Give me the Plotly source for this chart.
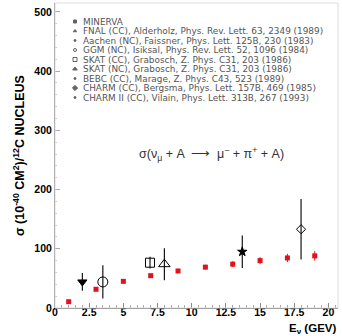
import plotly.graph_objects as go

# MINERvA prediction points
minerva_e = [1, 3, 5, 7, 9, 11, 13, 15, 17, 19]
minerva_sigma = [10.6, 31.6, 45, 54.6, 62.5, 69, 74, 80, 84.5, 88]
minerva_err = [2, 2.5, 3, 3, 3.5, 4, 5, 6, 7, 8]

# Other experiments (energy, sigma, error, symbol)
exp_names = ["FNAL", "GGM", "SKAT CC", "SKAT NC", "CHARM", "BEBC"]
exp_e = [2.0, 3.5, 6.95, 8.0, 13.7, 18.0]
exp_sigma = [44, 44, 76.5, 74, 95, 133]
exp_err = [15, 28, 10, 27, 27.5, 51]
exp_symbols = ["triangle-down", "circle-open", "square-open", "triangle-up-open", "star", "diamond-open"]
exp_sizes = [8, 10, 9, 10, 7, 7]

legend_labels = [
    "MINERVA",
    "FNAL (CC), Alderholz, Phys. Rev. Lett. 63, 2349 (1989)",
    "Aachen (NC), Faissner, Phys. Lett. 125B, 230 (1983)",
    "GGM (NC), Isiksal, Phys. Rev. Lett. 52, 1096 (1984)",
    "SKAT (CC), Grabosch, Z. Phys. C31, 203 (1986)",
    "SKAT (NC), Grabosch, Z. Phys. C31, 203 (1986)",
    "BEBC (CC), Marage, Z. Phys. C43, 523 (1989)",
    "CHARM (CC), Bergsma, Phys. Lett. 157B, 469 (1985)",
    "CHARM II (CC), Vilain, Phys. Lett. 313B, 267 (1993)",
]
legend_symbols = ["square", "triangle-up", "circle", "circle-open", "square-open",
                  "triangle-up", "circle", "diamond", "circle"]
legend_sizes = [3, 3, 2, 3, 4, 4, 2, 4, 2]

x_tickvals = [0, 2.5, 5, 7.5, 10, 12.5, 15, 17.5, 20]
y_tickvals = [0, 100, 200, 300, 400, 500]

W, H = 342, 336
L, R, T, B = 55, 4, 3, 28
pw, ph = W - L - R, H - T - B

fig = go.Figure()

fig.add_trace(go.Scatter(
    x=minerva_e, y=minerva_sigma, mode="markers",
    marker=dict(symbol="square", size=5, color="#e3101e"),
    error_y=dict(type="data", array=minerva_err, color="#e3101e", thickness=1, width=0),
    showlegend=False,
))

for name, e, s, err, sym, sz in zip(exp_names, exp_e, exp_sigma, exp_err, exp_symbols, exp_sizes):
    fig.add_trace(go.Scatter(
        x=[e], y=[s], mode="markers", name=name,
        marker=dict(symbol=sym, size=sz, color="black", line=dict(color="black", width=1)),
        error_y=dict(type="data", array=[err], color="black", thickness=1.1, width=0),
        showlegend=False,
    ))

# legend markers on an overlay axis (fractions of the plot area)
row_px = [21.5 + 9.5 * i for i in range(len(legend_labels))]
row_y = [(308 - p) / ph for p in row_px]
fig.add_trace(go.Scatter(
    x=[(75 - L) / pw] * len(legend_labels), y=row_y, mode="markers",
    marker=dict(symbol=legend_symbols, size=legend_sizes, color="#222",
                line=dict(color="#222", width=1)),
    xaxis="x2", yaxis="y2", showlegend=False,
))

for lab, yy in zip(legend_labels, row_y):
    fig.add_annotation(x=(81 - L) / pw, y=yy, xref="paper", yref="paper", text=lab,
                       showarrow=False, xanchor="left", yanchor="middle",
                       font=dict(family="DejaVu Sans", size=8.9, color="#555"))

fig.add_annotation(x=(212 - L) / pw, y=(308 - 154) / ph, xref="paper", yref="paper",
                   text="σ(ν<sub>μ</sub> + A  ⟶  μ<sup>−</sup> + π<sup>+</sup> + A)",
                   showarrow=False, font=dict(family="Liberation Sans", size=12.5, color="#333"))

fig.add_annotation(x=1.0, y=0, xref="paper", yref="paper", yshift=-12,
                   text="E<sub>ν</sub> (GEV)", showarrow=False, xanchor="right", yanchor="top",
                   font=dict(family="Liberation Sans", size=11.5, color="black", weight="bold"))

fig.add_shape(type="rect", xref="paper", yref="paper", x0=0, x1=1, y0=0, y1=1,
              line=dict(color="#ddd", width=1))

fig.update_layout(
    width=W, height=H, margin=dict(l=L, r=R, t=T, b=B, autoexpand=False),
    paper_bgcolor="white", plot_bgcolor="white",
    xaxis=dict(range=[0, pw / 13.67], tickvals=x_tickvals, ticktext=[str(v) for v in x_tickvals],
               automargin=False, ticklabelstandoff=-6,
               showgrid=False, zeroline=False, showline=True, linecolor="#666", linewidth=1,
               ticks="inside", ticklen=5, tickcolor="#888",
               minor=dict(ticks="inside", ticklen=3, dtick=0.5, tickcolor="#aaa"),
               tickfont=dict(family="Liberation Sans", size=10.5, color="black", weight="bold")),
    yaxis=dict(range=[0, 515], tickvals=y_tickvals, showgrid=False, zeroline=False,
               automargin=False,
               showline=True, linecolor="#888", linewidth=1,
               ticks="inside", ticklen=5, tickcolor="#aaa",
               minor=dict(ticks="inside", ticklen=2, dtick=20, tickcolor="#ccc"),
               tickfont=dict(family="Liberation Sans", size=10.5, color="black", weight="bold"),
               title=dict(text="σ (10<sup>-40</sup> CM<sup>2</sup>)/<sup>12</sup>C NUCLEUS",
                          standoff=6,
                          font=dict(family="Liberation Sans", size=12.5, color="black", weight="bold"))),
    xaxis2=dict(range=[0, 1], overlaying="x", visible=False, domain=[0, 1]),
    yaxis2=dict(range=[0, 1], overlaying="y", visible=False, domain=[0, 1]),
)

fig.write_html("out.html", config={"displayModeBar": False},
               post_script="document.body.style.margin='0';document.body.style.overflow='hidden';")
